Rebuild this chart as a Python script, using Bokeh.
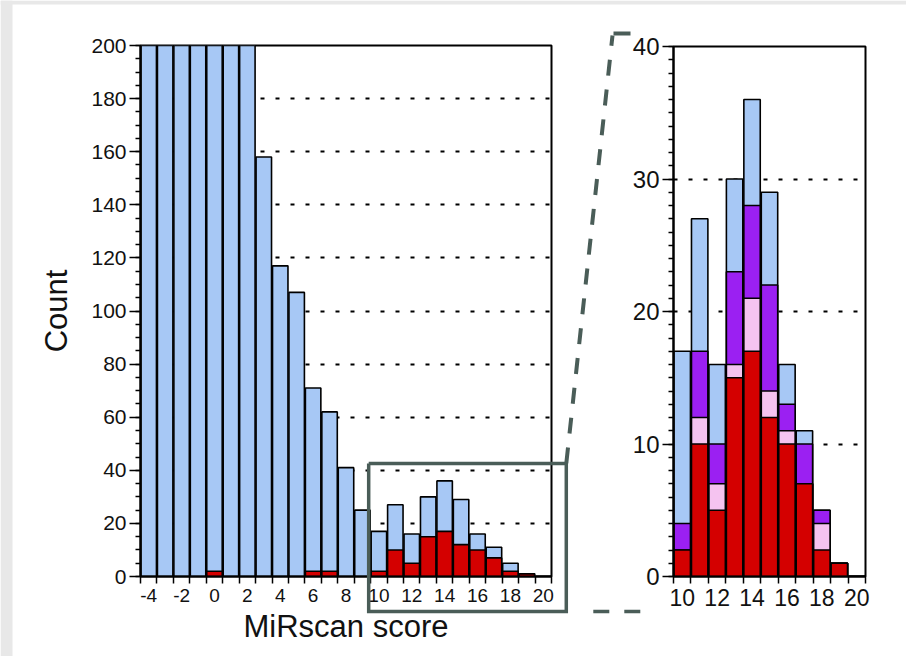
from bokeh.plotting import figure
from bokeh.models import FixedTicker, BoxAnnotation, Range1d, GridBox
from bokeh.embed import file_html
from bokeh.resources import INLINE
import numpy as np

# ---------------- data ----------------
score_bins = list(range(-4, 21))
# bins -4..2 run off the top of the 0-200 axis (estimated values above 200)
total_counts = [1850, 1500, 1150, 820, 560, 380, 250, 158, 117, 107, 71, 62, 41, 25,
                17, 27, 16, 30, 36, 29, 16, 11, 5, 1, 0]
red_counts = [0, 0, 0, 0, 2, 0, 0, 0, 0, 0, 2, 2, 0, 0,
              2, 10, 5, 15, 17, 12, 10, 7, 2, 1, 0]

zoom_bins = list(range(10, 21))
zoom_red = [2, 10, 5, 15, 17, 12, 10, 7, 2, 1, 0]
zoom_pink = [0, 2, 2, 1, 4, 2, 1, 0, 2, 0, 0]
zoom_purple = [2, 5, 3, 7, 7, 8, 2, 3, 1, 0, 0]
zoom_total = [17, 27, 16, 30, 36, 29, 16, 11, 5, 1, 0]

left_x_labels = list(range(-4, 21, 2))
left_x_text = ["-4", "-2", "0", "2", "4", "6", "8", "10", "12", "14", "16", "18", "20"]
left_y_ticks = list(range(0, 201, 20))
left_grid = list(range(20, 181, 20))
right_x_labels = list(range(10, 21, 2))
right_y_ticks = [0, 10, 20, 30, 40]
right_grid = [10, 20, 30]

BLUE = "#a7c8f5"
RED = "#d40000"
PURPLE = "#9b20f2"
PINK = "#f5c3f0"
BOX = "#4a5d58"
PAGE_GREY = "#e8e8e8"
FONT = "Liberation Sans"

# ---------------- layout geometry (page pixels) ----------------
PAGE_W, PAGE_H = 906, 656
SPLIT = 626                                   # boundary between the two canvases
L_AX = dict(l=140, r=551, t=45, b=576)        # left axes box
R_AX = dict(l=673, r=865, t=46, b=576)        # right axes box
L_X, L_Y = (-4.5, 20.5), (0, 200)
R_X, R_Y = (9.5, 20.5), (0, 40)

# zoom box (in the left chart's data units) and connector ends (page pixels)
ZOOM_BOX = dict(x0=9.38, x1=21.4, y0=-13.2, y1=42.6)
CONNECT_TOP = (612, 35)
HOOK_END = (630, 33)
BOTTOM_END = 640


def lpx(x):
    return L_AX["l"] + (x - L_X[0]) * (L_AX["r"] - L_AX["l"]) / (L_X[1] - L_X[0])


def lpy(y):
    return L_AX["b"] - (y - L_Y[0]) * (L_AX["b"] - L_AX["t"]) / (L_Y[1] - L_Y[0])


def no_align(p):
    if "frame_align" in p.properties():
        p.frame_align = False


def style(p, xlabels, xedges, yticks, yminor, grid, xsize, ysize):
    p.xgrid.visible = False
    p.ygrid.ticker = FixedTicker(ticks=grid)
    p.ygrid.grid_line_color = "black"
    p.ygrid.grid_line_width = 2
    p.ygrid.grid_line_dash = "4 11"
    xa, ya = p.xaxis[0], p.yaxis[0]
    xa.ticker = FixedTicker(ticks=xlabels, minor_ticks=xedges)
    ya.ticker = FixedTicker(ticks=yticks, minor_ticks=yminor)
    for ax, size in ((xa, xsize), (ya, ysize)):
        ax.axis_line_color = "black"
        ax.axis_line_width = 2
        ax.major_tick_line_color = "black"
        ax.minor_tick_line_color = "black"
        ax.major_tick_line_width = 1.5
        ax.minor_tick_line_width = 1.5
        ax.major_tick_in = 0
        ax.minor_tick_in = 0
        ax.major_label_text_font = FONT
        ax.major_label_text_color = "#111111"
        ax.major_label_text_font_size = size
        ax.axis_label_text_font = FONT
        ax.axis_label_text_font_style = "normal"
        ax.axis_label_text_font_size = "31px"
        ax.axis_label_text_color = "#111111"
    xa.major_tick_out = 0
    xa.minor_tick_out = 7
    xa.major_label_standoff = 5
    ya.major_tick_out = 11
    ya.minor_tick_out = 5
    ya.major_label_standoff = 3


# ---------------- left: full histogram ----------------
left = figure(width=SPLIT, height=PAGE_H, x_range=Range1d(*L_X), y_range=Range1d(*L_Y),
              output_backend="svg", toolbar_location=None,
              min_border_left=L_AX["l"], min_border_right=SPLIT - L_AX["r"],
              min_border_top=L_AX["t"], min_border_bottom=PAGE_H - L_AX["b"],
              background_fill_color="white", border_fill_color="white",
              outline_line_color="black", outline_line_width=2, outline_line_alpha=1)
no_align(left)
style(left, left_x_labels, list(np.arange(-4.5, 21, 1.0)), left_y_ticks,
      list(range(0, 201, 5)), left_grid, "19px", "21px")
left.xaxis.major_label_overrides = dict(zip(left_x_labels, left_x_text))
left.xaxis.axis_label = "MiRscan score"
left.yaxis.axis_label = "Count"
left.xaxis.axis_label_standoff = 4
left.yaxis.axis_label_standoff = 14

left.vbar(x=score_bins, width=0.94, bottom=0, top=total_counts,
          fill_color=BLUE, line_color="black", line_width=1.6)
left.vbar(x=score_bins, width=0.94, bottom=0, top=red_counts,
          fill_color=RED, line_color="black", line_width=1.6)

# ---------------- right: enlarged view ----------------
right = figure(width=PAGE_W - SPLIT, height=PAGE_H, x_range=Range1d(*R_X), y_range=Range1d(*R_Y),
               output_backend="svg", toolbar_location=None,
               min_border_left=R_AX["l"] - SPLIT, min_border_right=PAGE_W - R_AX["r"],
               min_border_top=R_AX["t"], min_border_bottom=PAGE_H - R_AX["b"],
               background_fill_color="white", border_fill_color="white",
               outline_line_color="black", outline_line_width=2, outline_line_alpha=1)
no_align(right)
style(right, right_x_labels, list(np.arange(9.5, 21, 1.0)), right_y_ticks,
      list(range(0, 41, 1)), right_grid, "23px", "24px")

r = np.array(zoom_red)
pk = np.array(zoom_pink)
pu = np.array(zoom_purple)
tot = np.array(zoom_total)
right.vbar(x=zoom_bins, width=0.94, bottom=0, top=tot, fill_color=BLUE,
           line_color="black", line_width=1.6)
right.vbar(x=zoom_bins, width=0.94, bottom=0, top=r + pk + pu, fill_color=PURPLE,
           line_color="black", line_width=1.6)
right.vbar(x=zoom_bins, width=0.94, bottom=0, top=r + pk, fill_color=PINK,
           line_color="black", line_width=1.6)
right.vbar(x=zoom_bins, width=0.94, bottom=0, top=r, fill_color=RED,
           line_color="black", line_width=1.6)

# ---------------- transparent overlay: zoom box + connectors ----------------
over = figure(width=PAGE_W, height=PAGE_H, x_range=Range1d(0, PAGE_W), y_range=Range1d(PAGE_H, 0),
              output_backend="svg", toolbar_location=None,
              x_axis_location=None, y_axis_location=None,
              min_border_left=0, min_border_right=0, min_border_top=0, min_border_bottom=0,
              background_fill_alpha=0, border_fill_alpha=0, outline_line_color=None)
no_align(over)
over.xgrid.visible = False
over.ygrid.visible = False

# page frame strips
over.add_layout(BoxAnnotation(left=0, right=12, top=0, bottom=PAGE_H, fill_color=PAGE_GREY,
                              fill_alpha=1, line_color=None))
over.add_layout(BoxAnnotation(left=0, right=PAGE_W, top=0, bottom=4, fill_color=PAGE_GREY,
                              fill_alpha=1, line_color=None))

bx0, bx1 = lpx(ZOOM_BOX["x0"]), lpx(ZOOM_BOX["x1"])
by0, by1 = lpy(ZOOM_BOX["y0"]), lpy(ZOOM_BOX["y1"])
over.line(x=[bx0, bx1, bx1, bx0, bx0], y=[by1, by1, by0, by0, by1],
          line_color=BOX, line_width=3.5, line_join="miter")
over.line(x=[bx1, CONNECT_TOP[0]], y=[by1, CONNECT_TOP[1]],
          line_color=BOX, line_width=4, line_dash="16 14")
over.line(x=[CONNECT_TOP[0] + 1, HOOK_END[0]], y=[HOOK_END[1], HOOK_END[1]],
          line_color=BOX, line_width=4)
over.line(x=[bx1 + 27, BOTTOM_END], y=[by0, by0],
          line_color=BOX, line_width=3.5, line_dash="16 15")

p = GridBox(children=[(left, 0, 0), (right, 0, 1), (over, 0, 0, 1, 2)], spacing=0)
open("out.html", "w").write(file_html(p, INLINE))
